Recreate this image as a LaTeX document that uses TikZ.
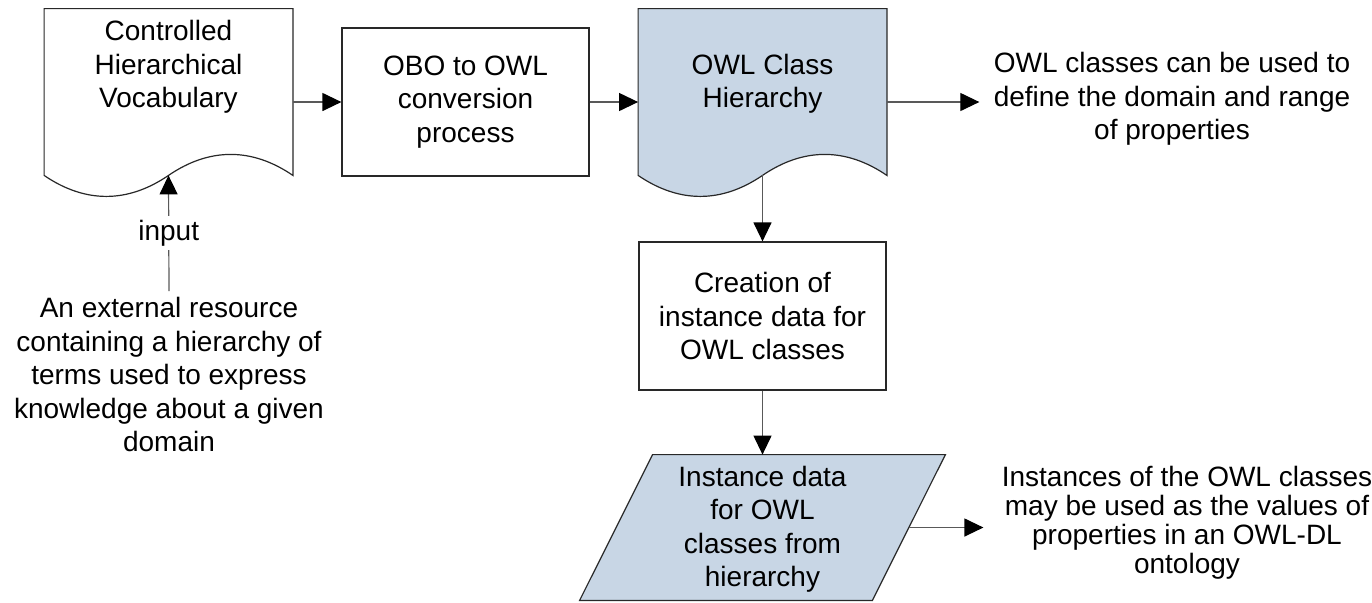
\documentclass[tikz,border=0pt]{standalone}
\usepackage{fontspec}
\setmainfont{Liberation Sans}
\usetikzlibrary{arrows.meta, positioning}

\definecolor{owlblue}{RGB}{200,214,229}
\definecolor{lineclr}{RGB}{40,40,40}

\tikzset{
  docline/.style={draw=lineclr, line width=0.6pt},
  flow/.style={draw=black!65, line width=0.6pt, -{Triangle[length=9.5pt,width=9pt,color=black]}},
  procbox/.style={draw=lineclr, line width=0.6pt, fill=white, minimum width=123.5pt, minimum height=74pt, inner sep=0pt, align=center},
  docbox/.style={minimum width=124pt, minimum height=83pt, inner sep=0pt},
  instbox/.style={minimum width=146pt, minimum height=72.5pt, inner sep=0pt},
  doctext/.style={align=center, inner sep=0pt},
  notetxt/.style={align=center, inner sep=3pt},
}

% outline of a flowchart document shape round an empty node
\newcommand{\owldoc}[2]{%
  \draw[docline, fill=#2] (#1.north west) -- (#1.north east) -- (#1.south east)
    .. controls +(-41,-28) and +(41,-28) .. (#1.south)
    .. controls +(-41,28) and +(41,28) .. (#1.south west) -- cycle;}

\begin{document}
\begin{tikzpicture}[x=0.5pt,y=0.5pt,yscale=-1,xscale=1,
  every node/.style={font=\fontsize{14}{16.75}\selectfont}]
\useasboundingbox (0,0) rectangle (1372,602);

%Flowchart: Document
\node[docbox] (vocab) at (168.5,92) {};
\owldoc{vocab}{white}
% Text Node
\node[doctext] (vocabtxt) at (168.5,67) {Controlled\\Hierarchical\\Vocabulary};

%Flowchart: Process
\node[procbox] (obo) at (465.5,102) {OBO to OWL\\conversion\\process};

%Flowchart: Document
\node[docbox] (owl) at (762.5,92) {};
\owldoc{owl}{owlblue}
% Text Node
\node[doctext] (owltxt) at (762.5,83.5) {OWL Class\\Hierarchy};

%Flowchart: Process
\node[procbox] (creation) at (762.5,316) {Creation of\\instance data for\\OWL classes};

%Flowchart: Data
\node[instbox] (inst) at (762.5,527.5) {};
\draw[docline, fill=owlblue] ([xshift=18.25pt]inst.north west) -- ([xshift=18.25pt]inst.north east)
  -- ([xshift=-18.25pt]inst.south east) -- ([xshift=-18.25pt]inst.south west) -- cycle;
% Text Node
\node[doctext] (insttxt) at (762.5,529) {Instance data\\for OWL\\classes from\\hierarchy};

% Text Node
\node[notetxt, anchor=north] (extnote) at (169,291) {An external resource\\containing a hierarchy of\\terms used to express\\knowledge about a given\\domain};
% Text Node
\node[notetxt, inner sep=7pt] (defnote) at (1172,99) {OWL classes can be used to\\define the domain and range\\of properties};
% Text Node
\node[notetxt, inner sep=9pt, font=\fontsize{14}{14.5}\selectfont] (usenote) at (1187,523) {Instances of the OWL classes\\may be used as the values of\\properties in an OWL-DL\\ontology};

%Straight Lines
\draw[flow] (vocab.east |- obo.west) -- (obo.west);
\draw[flow] (obo.east) -- (owl.west |- obo.east);
\draw[flow] (owl.east |- obo.east) -- (defnote.west |- obo.east);
\draw[flow] (owl.south) -- (creation.north);
\draw[flow] (creation.south) -- (inst.north);
\draw[flow] (inst.east) -- (usenote.west |- inst.east);
\draw[flow] (extnote.north) -- (vocab.south) node[midway, fill=white, inner sep=2pt] (inputlbl) {input};

\end{tikzpicture}
\end{document}
